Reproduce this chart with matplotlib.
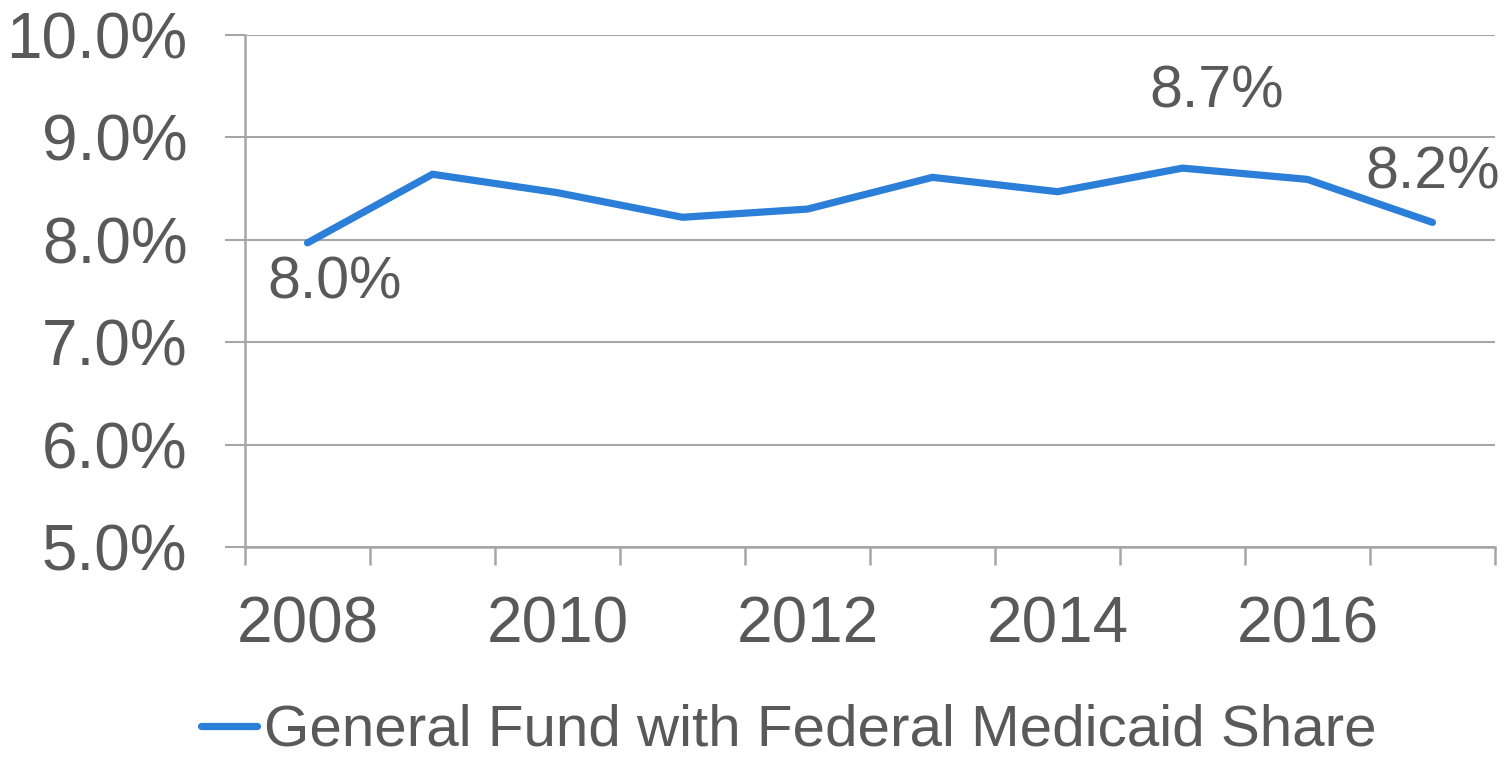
import numpy as np
import matplotlib
matplotlib.use('Agg')
import matplotlib.pyplot as plt

# Data
years = [2008, 2009, 2010, 2011, 2012, 2013, 2014, 2015, 2016, 2017]
share = [7.97, 8.64, 8.46, 8.22, 8.30, 8.61, 8.47, 8.70, 8.59, 8.17]
tick_years = ['2008', '2010', '2012', '2014', '2016']
yticks = [5.0, 6.0, 7.0, 8.0, 9.0, 10.0]
series_name = 'General Fund with Federal Medicaid Share'

text_color = '#595959'
grid_color = '#a6a6a6'
line_color = '#2b7fd8'

plt.rcParams['font.family'] = ['Liberation Sans', 'DejaVu Sans']

fig = plt.figure(figsize=(15.12, 7.57), dpi=100)
ax = fig.add_axes([245 / 1512, 1 - 547 / 757, 1250 / 1512, 512 / 757])

x = np.arange(len(years))
ax.plot(x, share, color=line_color, lw=5.2, solid_capstyle='round',
        solid_joinstyle='miter', label=series_name, zorder=3)

ax.set_xlim(-0.5, len(years) - 0.5)
ax.set_ylim(5, 10)

ax.set_yticks(yticks)
ax.set_yticklabels(['{:.1f}%'.format(v) for v in yticks])
ax.yaxis.grid(True, color=grid_color, lw=1.5)
ax.set_axisbelow(True)

# x: labels every other year, ticks on category boundaries
ax.set_xticks(x[::2])
ax.set_xticklabels(tick_years)
ax.set_xticks(np.arange(-0.5, len(years)), minor=True)
ax.tick_params(axis='x', which='major', length=0, pad=35, labelsize=46, colors=text_color)
ax.tick_params(axis='x', which='minor', length=13, width=1.8, color=grid_color)
ax.tick_params(axis='y', length=14.4, width=1.5, color=grid_color, pad=27,
               labelsize=46, labelcolor=text_color)

for s in ['top', 'right']:
    ax.spines[s].set_visible(False)
for s in ['left', 'bottom']:
    ax.spines[s].set_color(grid_color)
    ax.spines[s].set_linewidth(1.8)

# data labels
labels = {0: (27, -40), 7: (34, 76), 9: (0, 49)}
for i, (dx, dy) in labels.items():
    ax.annotate('{:.1f}%'.format(share[i]), (x[i], share[i]), xytext=(dx, dy),
                textcoords='offset pixels', ha='center', va='center',
                fontsize=42.5, color=text_color)

leg = fig.legend(loc='center', bbox_to_anchor=(0.522, 1 - 731 / 757), frameon=False,
                 fontsize=42, handlelength=0.96, handletextpad=0.12,
                 labelcolor=text_color)

fig.savefig('out.png', dpi=100)
